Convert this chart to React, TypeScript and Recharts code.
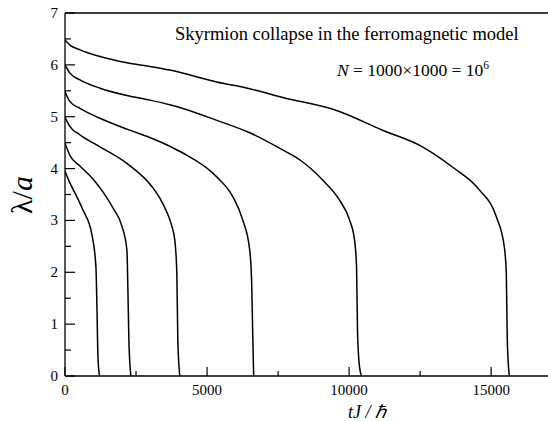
import React from 'react'
import { LineChart, Line, XAxis, YAxis, ReferenceLine, Customized } from 'recharts'

// lambda/a versus tJ/hbar, one curve per starting radius
const t1 = [0, 176, 422, 632, 949, 1089, 1124, 1160, 1212]
const l1 = [3.95, 3.72, 3.45, 3.2, 2.72, 2.1, 1.33, 0.37, 0]

const t2 = [0, 176, 527, 984, 1335, 1687, 2003, 2179, 2214, 2249, 2319]
const l2 = [4.49, 4.25, 4.05, 3.8, 3.55, 3.24, 2.89, 2.43, 1.66, 0.69, 0]

const t3 = [0, 176, 527, 1230, 2179, 3092, 3338, 3584, 3760, 3865, 3936, 3971, 4041]
const l3 = [4.99, 4.81, 4.65, 4.42, 4.1, 3.63, 3.43, 3.16, 2.89, 2.62, 1.99, 0.69, 0]

const t4 = [0, 176, 527, 1230, 2179, 2987, 3689, 4146, 5341, 5904, 6255, 6501, 6571, 6606, 6641]
const l4 = [5.48, 5.29, 5.16, 4.97, 4.76, 4.6, 4.43, 4.3, 3.84, 3.46, 3.01, 2.43, 1.79, 0.83, 0]

const t5 = [0, 176, 527, 1230, 2179, 2987, 3689, 4146, 5341, 6501, 7660, 8258, 9067, 9664, 10015, 10191, 10262, 10297, 10367, 10437]
const l5 = [6.0, 5.84, 5.71, 5.55, 5.41, 5.32, 5.23, 5.16, 4.93, 4.69, 4.36, 4.17, 3.78, 3.39, 3.01, 2.62, 2.1, 0.83, 0.17, 0]

const t6 = [0, 176, 527, 1230, 2179, 2987, 3689, 5341, 6501, 7660, 9558, 11175, 12580, 13635, 14584, 15181, 15462, 15532, 15567, 15638]
const l6 = [6.48, 6.38, 6.29, 6.16, 6.04, 5.97, 5.9, 5.67, 5.54, 5.37, 5.12, 4.74, 4.42, 4.03, 3.59, 3.07, 2.49, 1.99, 0.69, 0]

const xTicks = [0, 2500, 5000, 7500, 10000, 12500, 15000]
const yTicks = [0, 0.5, 1, 1.5, 2, 2.5, 3, 3.5, 4, 4.5, 5, 5.5, 6, 6.5, 7]

const curves = [
	[t1, l1],
	[t2, l2],
	[t3, l3],
	[t4, l4],
	[t5, l5],
	[t6, l6],
].map(([ts, ls]) => ts.map((t, i) => ({ t, lambda: ls[i] })))

const serif = { fontFamily: "'Liberation Serif', 'Times New Roman', serif" }

const XTick = ({ x, y, payload }: any) => {
	const major = payload.value % 5000 === 0
	return (
		<g>
			<line x1={x} x2={x} y1={y} y2={y - (major ? 9 : 5)} stroke="#000" strokeWidth={1.2} />
			{major && (
				<text x={x} y={y + 19} textAnchor="middle" fontSize={15} style={serif} fill="#000">
					{payload.value}
				</text>
			)}
		</g>
	)
}

const YTick = ({ x, y, payload }: any) => {
	const major = Number.isInteger(payload.value)
	return (
		<g>
			<line x1={x} x2={x + (major ? 10 : 6)} y1={y} y2={y} stroke="#000" strokeWidth={1.2} />
			{major && (
				<text x={x - 7} y={y + 5} textAnchor="end" fontSize={15} style={serif} fill="#000">
					{payload.value}
				</text>
			)}
		</g>
	)
}

const Annotations = () => (
	<g style={serif} fill="#000">
		<text x={175} y={40} fontSize={18.5} style={serif}>Skyrmion collapse in the ferromagnetic model</text>
		<text x={337} y={76} fontSize={17.5} style={serif}>
			<tspan fontStyle="italic">N</tspan>
			<tspan> = 1000×1000 = 10</tspan>
			<tspan fontSize={11.5} dy={-7}>6</tspan>
		</text>
		<text x={367} y={418} fontSize={18} textAnchor="middle" fontStyle="italic" style={serif}>tJ / ℏ</text>
		<text x={32} y={195} fontSize={30} textAnchor="middle" transform="rotate(-90, 32, 195)" style={serif}>
			<tspan>λ/</tspan>
			<tspan fontStyle="italic">a</tspan>
		</text>
	</g>
)

export default function App() {
	return (
		<div style={{ position: 'absolute', left: 0, top: 0, background: '#fff' }}>
			<LineChart width={548} height={421} margin={{ top: 13, right: 0, left: 0, bottom: 0 }}>
				<XAxis
					type="number"
					dataKey="t"
					domain={[0, 17000]}
					ticks={xTicks}
					allowDataOverflow
					height={45}
					tickSize={0}
					tickMargin={0}
					tickLine={false}
					tick={<XTick />}
					axisLine={{ stroke: '#000', strokeWidth: 1.3 }}
				/>
				<YAxis
					type="number"
					domain={[0, 7]}
					ticks={yTicks}
					allowDataOverflow
					width={65}
					tickSize={0}
					tickMargin={0}
					tickLine={false}
					tick={<YTick />}
					axisLine={{ stroke: '#000', strokeWidth: 1.3 }}
				/>
				<ReferenceLine y={7} stroke="#000" strokeWidth={1.3} />
				{curves.map((d, i) => (
					<Line
						key={i}
						data={d}
						dataKey="lambda"
						type="monotone"
						stroke="#000"
						strokeWidth={1.5}
						dot={false}
						isAnimationActive={false}
					/>
				))}
				<Customized component={Annotations} />
			</LineChart>
		</div>
	)
}
